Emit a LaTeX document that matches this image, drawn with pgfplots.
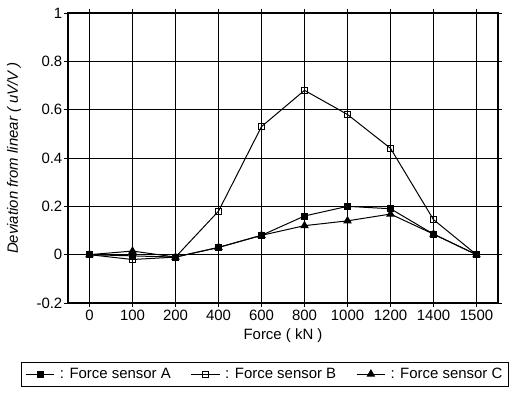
\documentclass[border=0pt]{standalone}
\usepackage{pgfplots}
\pgfplotsset{compat=1.18}
\usepackage{fontspec}
\setmainfont{Liberation Sans}
\begin{document}
\begin{tikzpicture}[x=1bp,y=1bp]
\useasboundingbox (0,0) rectangle (519,396);
\begin{axis}[at={(68bp,93bp)}, anchor=south west, scale only axis,
 width=430bp, height=290bp,
 xmin=-0.5, xmax=9.5, ymin=-0.2, ymax=1,
 xtick={0,...,9}, xticklabels={0,100,200,400,600,800,1000,1200,1400,1500},
 ytick={-0.2,0,0.2,0.4,0.6,0.8,1},
 yticklabels={-0.2,0,0.2,0.4,0.6,0.8,1},
 grid=major, major grid style={black, line width=0.8pt},
 axis line style={line width=1.2pt},
 tick align=outside, major tick length=4bp, tick style={black, line width=0.8pt},
 tick label style={font=\fontsize{15}{17}\selectfont},
 yticklabel style={inner sep=1.5bp},
 every axis x label/.style={at={(axis description cs:0.5,0)}, yshift=-33bp, anchor=center, font=\fontsize{15}{17}\selectfont},
 every axis y label/.style={at={(axis description cs:0,0.5)}, xshift=-54bp, rotate=90, anchor=center, font=\fontsize{15}{17}\selectfont\itshape},
 xlabel={Force ( kN )}, ylabel={Deviation from linear ( uV/V )},
 legend columns=3,
 legend style={at={(axis description cs:0.458,-0.245)}, anchor=center, draw=black, line width=0.8pt,
   font=\fontsize{15}{17}\selectfont, inner xsep=4bp, inner ysep=4bp,
   /tikz/every odd column/.append style={column sep=3bp},
   /tikz/every even column/.append style={column sep=18bp},
   nodes={inner xsep=2bp}},
 legend image code/.code={\draw[mark repeat=2,mark phase=2] plot coordinates {(0cm,0cm) (0.5cm,0cm) (1cm,0cm)};},
]
\addplot[black, line width=1bp, mark=square*, mark size=3bp, mark options={solid,fill=black}]
 coordinates {(0,0)(1,-0.005)(2,-0.01)(3,0.03)(4,0.08)(5,0.16)(6,0.2)(7,0.19)(8,0.085)(9,0)};
\addlegendentry{: Force sensor A}
\addplot[black, line width=1bp, mark=square, mark size=3bp, mark options={solid,fill=white}]
 coordinates {(0,0)(1,-0.02)(2,-0.01)(3,0.18)(4,0.53)(5,0.68)(6,0.58)(7,0.44)(8,0.145)(9,0)};
\addlegendentry{: Force sensor B}
\addplot[black, line width=1bp, mark=triangle*, mark size=4bp, mark options={solid,fill=black}]
 coordinates {(0,0)(1,0.015)(2,-0.01)(3,0.03)(4,0.08)(5,0.12)(6,0.14)(7,0.168)(8,0.085)(9,0)};
\addlegendentry{: Force sensor C}
\end{axis}
\end{tikzpicture}
\end{document}
